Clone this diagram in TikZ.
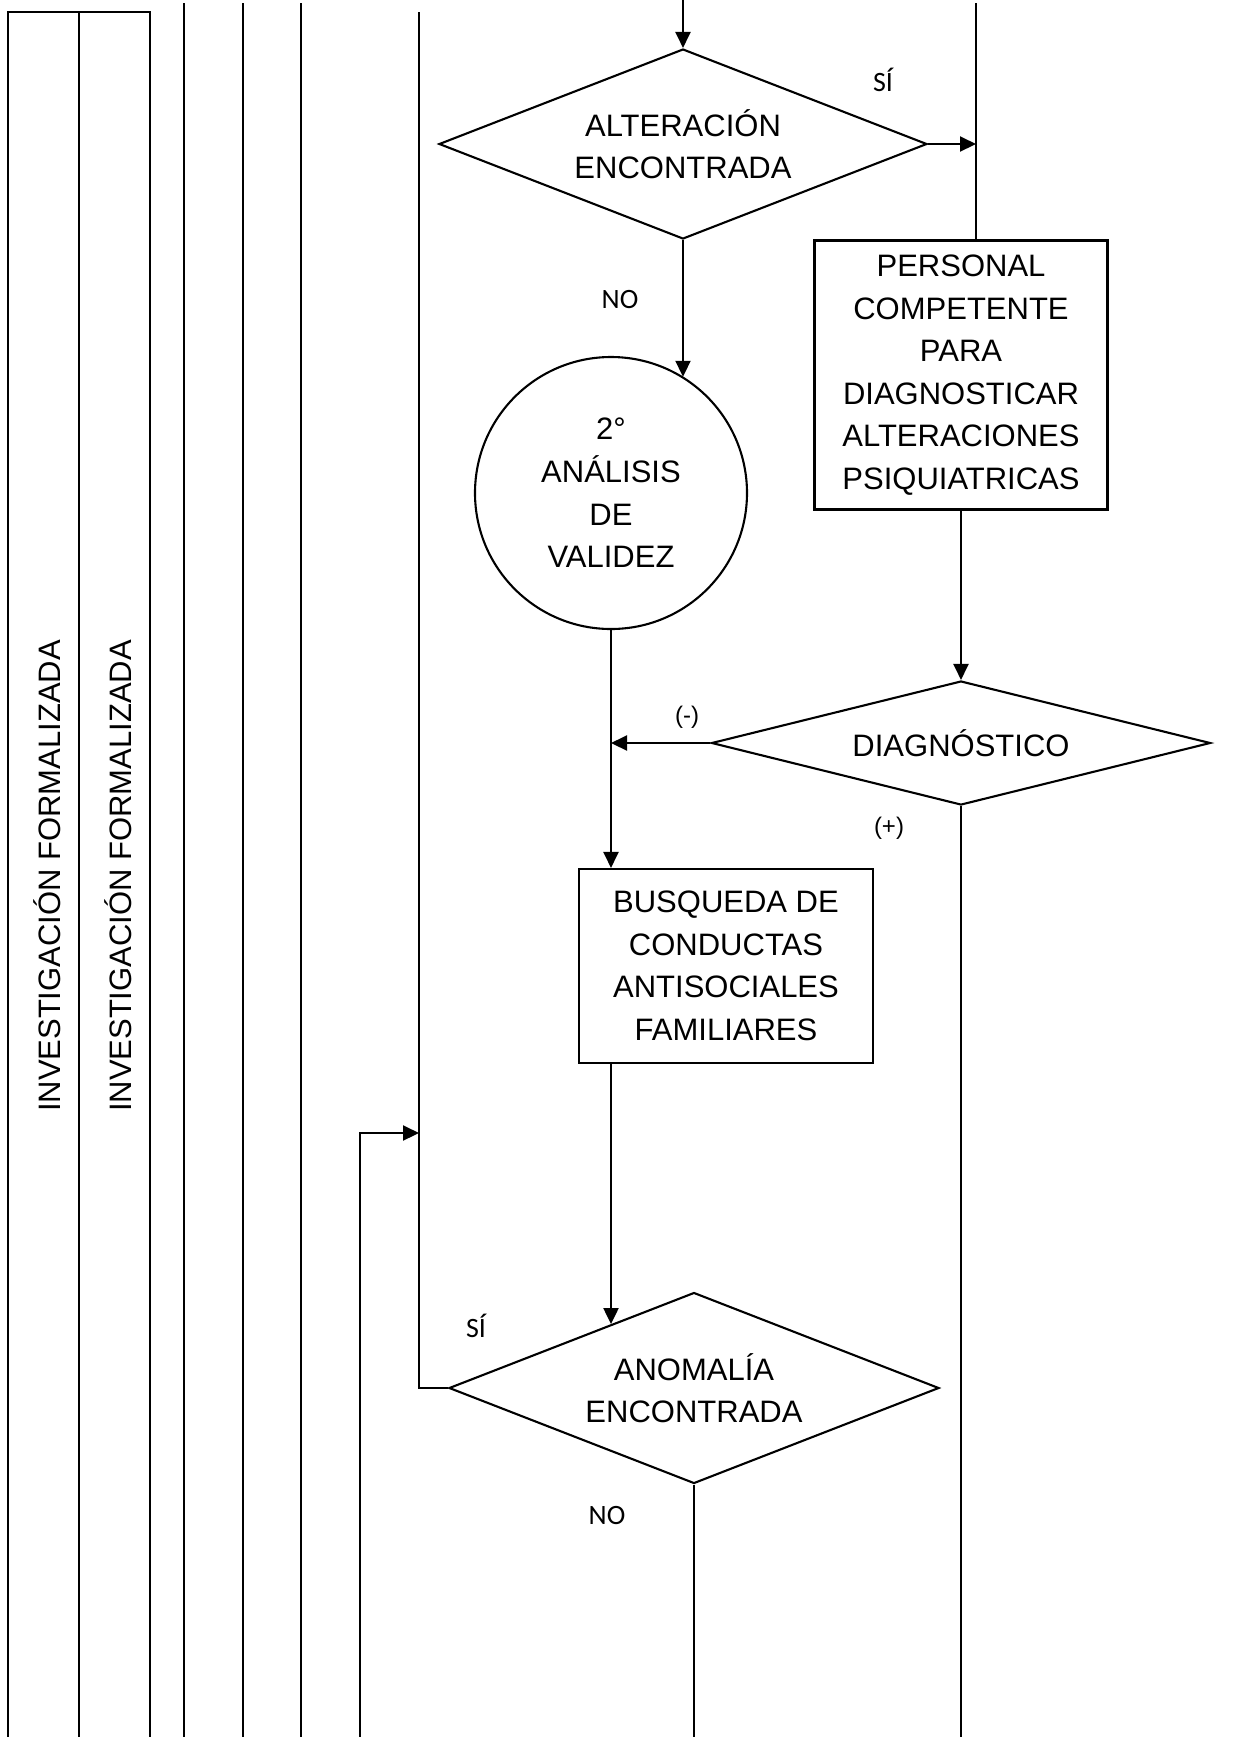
\documentclass[tikz,border=0pt]{standalone}
\usepackage{fontspec}
\setmainfont{Liberation Sans}
\newfontfamily\lblfont{Carlito}
\usetikzlibrary{arrows.meta, positioning, shapes.geometric, calc}

\begin{document}
\begin{tikzpicture}[x=0.5pt, y=-0.5pt, line width=1.05pt,
    txt/.style={font=\fontsize{15.5}{21.3}\selectfont, align=center, inner sep=0pt},
    decision/.style={txt, draw, diamond, aspect=2.57},
    procbox/.style={txt, draw, rectangle},
    lbl/.style={font=\lblfont\fontsize{14}{16}\selectfont, inner sep=0pt},
    sgn/.style={font=\fontsize{12}{14}\selectfont, inner sep=0pt},
    arr/.style={-{Triangle[length=8pt, width=7.5pt]}}]
  \useasboundingbox (0,0) rectangle (1235,1737);

  % Lanes
  \draw (8,1737) |- (150,12) -- (150,1737);
  \draw (79,12) -- (79,1737);
  \foreach \x in {184,243,301}{
    \draw (\x,3) -- (\x,1737);
  }
  \node[txt, rotate=90] (lane1) at (47,876) {INVESTIGACIÓN FORMALIZADA};
  \node[txt, rotate=90] (lane2) at (118,876) {INVESTIGACIÓN FORMALIZADA};

  % Free ends of the flow lines
  \coordinate (intop) at (683,0);
  \coordinate (ltop) at (419,12);
  \coordinate (rtop) at (976,3);
  \coordinate (back) at (419,1133);
  \coordinate (lbot) at (360,1737);
  \coordinate (bot) at (694,1737);

  % Steps
  \node[decision, minimum width=244pt, minimum height=95pt] (alt) at (683,144)
    {ALTERACIÓN\\ENCONTRADA};
  \node[procbox, minimum width=146.5pt, minimum height=134.5pt] (pers) at (961,375)
    {PERSONAL\\COMPETENTE\\PARA\\DIAGNOSTICAR\\ALTERACIONES\\PSIQUIATRICAS};
  \node[txt, draw, circle, minimum size=136pt] (val) at (611,493)
    {2°\\ANÁLISIS\\DE\\VALIDEZ};
  \node[decision, aspect=4, minimum width=249.5pt, minimum height=62pt] (diag) at (961,743)
    {DIAGNÓSTICO};
  \node[procbox, minimum width=147pt, minimum height=97pt] (busq) at (726,966)
    {BUSQUEDA DE\\CONDUCTAS\\ANTISOCIALES\\FAMILIARES};
  \node[decision, minimum width=245pt, minimum height=95.5pt] (anom) at (694,1388)
    {ANOMALÍA\\ENCONTRADA};
  \coordinate (hit) at ($(anom.north)!0.338!(anom.west)$);

  % Branch labels
  \node[lbl] (si1) at (883,80) {SÍ};
  \node[lbl] (no1) at (620,299) {NO};
  \node[sgn] (minus) at (687,717) {(-)};
  \node[sgn] (plus) at (889,828) {(+)};
  \node[lbl] (si2) at (476,1326) {SÍ};
  \node[lbl] (no2) at (607,1515) {NO};

  % Flow
  \draw[arr] (intop) -- (alt.north);
  \draw[arr] (alt.east) -- (alt.east -| rtop);
  \draw (rtop) -- (rtop |- pers.north);
  \draw[arr] (alt.south) -- (alt.south |- val.58);
  \draw[arr] (pers.south) -- (diag.north);
  \draw[arr] (diag.west) -- (diag.west -| val.south);
  \draw[arr] (val.south) -- (val.south |- busq.north);
  \draw[arr] (busq.south -| val.south) -- (val.south |- hit);
  \draw (diag.south) -- (diag.south |- bot);
  \draw (anom.south) -- (bot);
  \draw (anom.west) -| (ltop);
  \draw[arr] (lbot) |- (back);
\end{tikzpicture}
\end{document}
